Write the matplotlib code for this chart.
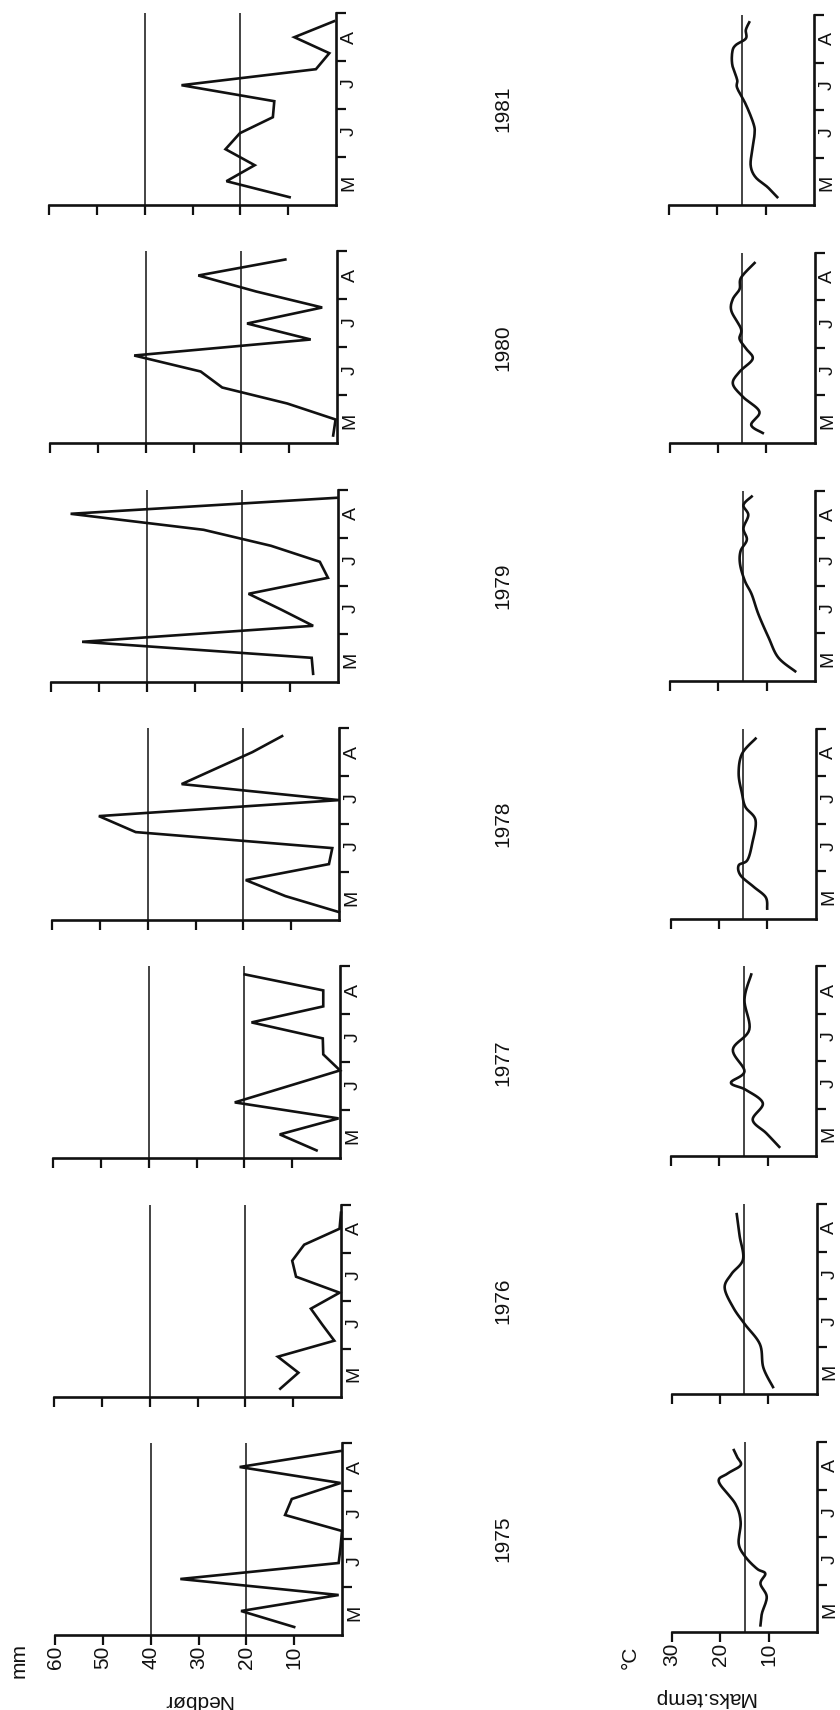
import numpy as np
import matplotlib
matplotlib.use("Agg")
import matplotlib.pyplot as plt

plt.rcParams['font.family'] = ['Liberation Sans', 'DejaVu Sans']

# ---------------- data ----------------
years = [1975, 1976, 1977, 1978, 1979, 1980, 1981]
months = ['M', 'J', 'J', 'A']
precip_ticks = [60, 50, 40, 30, 20, 10]
temp_ticks = [30, 20, 10]
precip_ref = [40, 20]
temp_ref = [15]

# precipitation (mm) per 10-day period, May-August (12 periods)
dekad_t = [(k + 0.5) / 3 for k in range(12)]
prec_1975 = [10.0, 21.1, 0.7, 33.8, 0.7, 0.3, 0.0, 11.9, 10.5, 0.3, 21.4, 0.3]
prec_1976 = [12.7, 8.9, 13.2, 1.4, 3.9, 6.3, 0.3, 9.4, 10.2, 7.7, 0.3, 0.0]
prec_1977 = [4.9, 12.6, 0.3, 22.0, 11.0, 0.0, 3.5, 3.6, 18.5, 3.5, 3.5, 19.9]
prec_1978 = [0.0, 11.2, 19.5, 2.1, 1.4, 42.5, 50.2, 0.0, 32.9, 25.5, 18.1, 11.9]
prec_1979 = [5.2, 5.5, 53.5, 5.2, 11.8, 18.7, 2.1, 3.8, 14.0, 28.1, 55.9, 0.3]
prec_1980 = [0.8, 0.3, 10.4, 24.0, 28.5, 42.4, 5.5, 18.8, 3.1, 16.9, 29.0, 10.8]
prec_1981 = [9.7, 22.9, 17.0, 23.1, 20.1, 13.2, 12.9, 32.3, 4.2, 1.4, 8.7, 0.4]
precip = [prec_1975, prec_1976, prec_1977, prec_1978, prec_1979, prec_1980, prec_1981]

# maximum temperature (deg C); time in months from 1 May
temp_t_1975 = [0.14, 0.39, 0.74, 1.02, 1.23, 1.33, 1.58, 1.86, 2.32, 2.70, 3.16, 3.33, 3.51, 3.68, 3.83]
temp_v_1975 = [11.7, 11.4, 10.4, 11.7, 10.7, 12.4, 14.8, 16.2, 15.8, 16.9, 20.3, 18.6, 15.8, 16.5, 17.2]
temp_t_1976 = [0.15, 0.56, 1.05, 1.47, 1.82, 2.24, 2.53, 2.84, 3.33, 3.79]
temp_v_1976 = [9.0, 11.0, 11.7, 14.8, 17.2, 19.0, 17.6, 15.2, 15.9, 16.5]
temp_t_1977 = [0.20, 0.49, 0.77, 1.12, 1.40, 1.55, 1.79, 2.25, 2.67, 3.30, 3.83]
temp_v_1977 = [7.6, 10.3, 13.1, 11.0, 14.5, 17.6, 14.8, 17.2, 13.8, 14.8, 13.4]
temp_t_1978 = [0.21, 0.45, 0.67, 0.91, 1.12, 1.23, 1.58, 2.07, 2.35, 2.63, 3.05, 3.47, 3.79]
temp_v_1978 = [10.0, 10.3, 12.8, 15.5, 15.9, 14.1, 13.1, 12.4, 14.5, 15.2, 15.9, 15.2, 12.4]
temp_t_1979 = [0.20, 0.49, 0.91, 1.40, 1.82, 2.10, 2.45, 2.73, 2.97, 3.21, 3.49, 3.70, 3.88]
temp_v_1979 = [4.1, 7.6, 9.6, 11.7, 13.1, 14.5, 15.5, 15.4, 14.1, 14.8, 13.8, 14.8, 13.1]
temp_t_1980 = [0.21, 0.38, 0.66, 0.97, 1.25, 1.50, 1.77, 1.98, 2.19, 2.40, 2.78, 3.03, 3.24, 3.48, 3.79]
temp_v_1980 = [10.7, 13.1, 11.4, 14.8, 16.9, 15.5, 12.8, 14.1, 15.5, 15.2, 17.2, 16.9, 15.5, 15.2, 12.4]
temp_t_1981 = [0.17, 0.38, 0.59, 0.83, 1.15, 1.50, 1.71, 2.12, 2.47, 2.64, 2.95, 3.23, 3.37, 3.51, 3.69, 3.85]
temp_v_1981 = [7.6, 9.6, 12.1, 13.1, 12.8, 12.3, 12.5, 14.1, 15.9, 15.9, 16.9, 16.9, 16.2, 14.1, 14.1, 13.4]
temp_t = [temp_t_1975, temp_t_1976, temp_t_1977, temp_t_1978, temp_t_1979, temp_t_1980, temp_t_1981]
temp_v = [temp_v_1975, temp_v_1976, temp_v_1977, temp_v_1978, temp_v_1979, temp_v_1980, temp_v_1981]


def smooth_curve(ts, vs, n=10):
    """Catmull-Rom rendering of a hand-drawn curve through the read points."""
    P = np.column_stack([np.asarray(ts, float), np.asarray(vs, float) / 10.0])
    P = np.vstack([P[0], P, P[-1]])
    out = []
    for i in range(1, len(P) - 2):
        p0, p1, p2, p3 = P[i - 1], P[i], P[i + 1], P[i + 2]
        for s in np.linspace(0, 1, n, endpoint=False):
            out.append(0.5 * (2 * p1 + (-p0 + p2) * s + (2 * p0 - 5 * p1 + 4 * p2 - p3) * s ** 2
                              + (-p0 + 3 * p1 - 3 * p2 + p3) * s ** 3))
    out.append(P[-2])
    out = np.array(out)
    return out[:, 0], out[:, 1] * 10.0


# ---------------- layout ----------------
W, H = 840, 1710
fig = plt.figure(figsize=(W / 100, H / 100), dpi=100)
FS = 15
INK = '#111111'


def add_ax(x0, x1, ybot, ytop):
    return fig.add_axes([x0 / W, 1 - ybot / H, (x1 - x0) / W, (ybot - ytop) / H])


def style(ax, vmax, ticks, show_labels):
    ax.set_xlim(vmax, 0)
    ax.set_ylim(0, 4)
    ax.patch.set_visible(False)
    for s in ['top', 'left']:
        ax.spines[s].set_visible(False)
    for s in ['bottom', 'right']:
        ax.spines[s].set_linewidth(1.9)
        ax.spines[s].set_color(INK)
    ax.set_xticks(ticks)
    if show_labels:
        ax.set_xticklabels([str(t) for t in ticks])
    else:
        ax.set_xticklabels([])
    ax.tick_params(axis='x', direction='out', length=7, width=1.6, pad=0.5,
                   labelsize=FS, labelrotation=90, colors=INK)
    ax.yaxis.tick_right()
    ax.set_yticks([1, 2, 3, 4])
    ax.set_yticklabels([])
    ax.set_yticks([0.5, 1.5, 2.5, 3.5], minor=True)
    ax.set_yticklabels(months, minor=True)
    ax.tick_params(axis='y', which='major', direction='out', length=7, width=1.6,
                   right=True, left=False, colors=INK)
    ax.tick_params(axis='y', which='minor', length=0, pad=3.5, labelsize=14,
                   labelrotation=90, right=True, left=False, labelright=True,
                   labelleft=False, colors=INK)


for i, yr in enumerate(years):
    # precipitation panel
    base = 342 - 1.0 * i
    ybot = 1635 - 238.3 * i
    ax = add_ax(base - 287, base, ybot, ybot - 192)
    style(ax, 60, precip_ticks, i == 0)
    for r in precip_ref:
        ax.axvline(r, color=INK, lw=1.1)
    ax.plot(precip[i], dekad_t, color=INK, lw=1.9, clip_on=False,
            solid_joinstyle='miter')

    # temperature panel
    tbase = 817 - 0.5 * i
    tbot = 1632 - 237.8 * i
    axt = add_ax(tbase - 145, tbase, tbot, tbot - 190)
    style(axt, 30, temp_ticks, i == 0)
    for r in temp_ref:
        axt.axvline(r, color=INK, lw=1.1)
    st, sv = smooth_curve(temp_t[i], temp_v[i])
    axt.plot(sv, st, color=INK, lw=1.9, clip_on=False)

    # year label
    fig.text(503 / W, 1 - (ybot - 96) / H, str(yr), rotation=90, ha='center',
             va='center', fontsize=FS, color=INK)

# axis titles
fig.text(19 / W, 1 - 1660 / H, 'mm', rotation=90, ha='center', va='center',
         fontsize=FS, color=INK)
fig.text(197 / W, 1 - 1700 / H, 'Nedbør', rotation=180, ha='center', va='center',
         fontsize=FS, color=INK)
fig.text(630 / W, 1 - 1657 / H, '°C', rotation=90, ha='center', va='center',
         fontsize=FS, color=INK)
fig.text(704 / W, 1 - 1697 / H, 'Maks.temp', rotation=180, ha='center', va='center',
         fontsize=FS, color=INK)

fig.savefig('out.png', dpi=100, facecolor='white')
